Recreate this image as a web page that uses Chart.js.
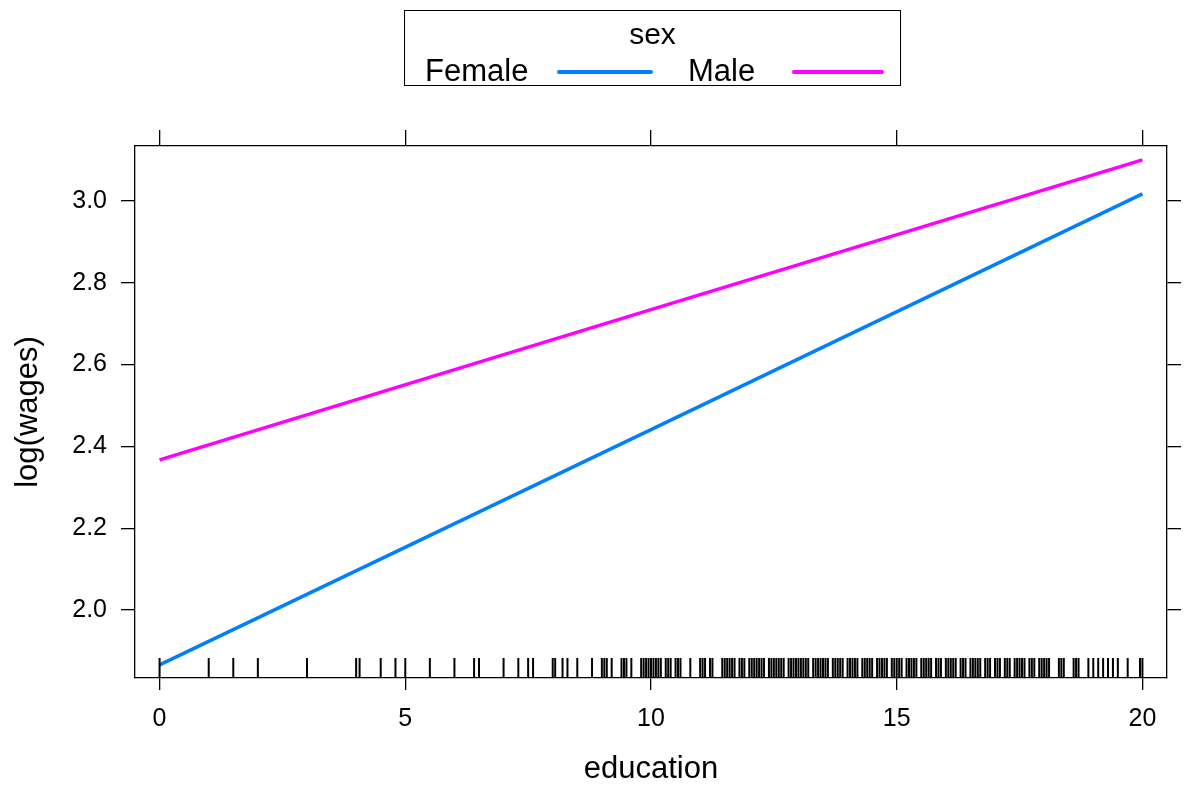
<!DOCTYPE html>
<html lang="en">
<head>
  <meta charset="UTF-8">
  <script src="https://cdn.jsdelivr.net/npm/chart.js"></script>
  <style>
    body, html {
      margin: 0;
      padding: 0;
      background: white;
      font-family: 'Liberation Sans', Arial, sans-serif;
    }
    .wrap {
      position: relative;
      width: 1185px;
      height: 788px;
    }
    .legend {
      position: absolute;
      left: 404px;
      top: 10px;
      width: 495px;
      height: 74px;
      border: 1px solid #000;
      font-size: 30px;
      color: #000;
    }
    .legend .title {
      position: absolute;
      left: 0; right: 0;
      top: 6px;
      text-align: center;
    }
    .legend .item { position: absolute; top: 44px; font-size: 31px; line-height: 31px; }
    .legend .line { position: absolute; top: 59px; height: 4px; border-radius: 2px; }
  </style>
</head>
<body>
  <div class="wrap">
    <canvas id="effectChart" width="1185" height="788"></canvas>
    <!-- legend box drawn in html, lattice style -->
    <div class="legend">
      <div class="title">sex</div>
      <div class="item" style="left:20px">Female</div>
      <div class="line" style="left:152px;width:96px;background:#0080ff"></div>
      <div class="item" style="left:283px">Male</div>
      <div class="line" style="left:387px;width:92px;background:#ff00ff"></div>
    </div>
  </div>
<script>
  // fitted values
  const education = [0, 10, 20];
  const female = [1.866, 2.441, 3.017];
  const male = [2.367, 2.734, 3.100];

  // axis ticks
  const xTicks = [0, 5, 10, 15, 20];
  const yTicks = [2.0, 2.2, 2.4, 2.6, 2.8, 3.0];

  // rug of observed education values
  const rugValues = [0, 1, 1.5, 2, 3, 4, 4.07, 4.5, 4.8, 5, 5.5, 6, 6.4, 6.5, 7, 7.3, 7.5, 7.6,
    8, 8.05, 8.2, 8.3, 8.5, 8.8, 9, 9.05, 9.1, 9.2, 9.4, 9.45, 9.5, 9.6, 9.8, 9.85, 9.9, 9.95,
    10, 10.05, 10.1, 10.15, 10.2, 10.3, 10.35, 10.4, 10.5, 10.55, 10.6, 10.8, 11, 11.05, 11.1, 11.2,
    11.25, 11.45, 11.5, 11.55, 11.6, 11.65, 11.7, 11.8, 11.85, 11.9,
    12, 12.05, 12.1, 12.15, 12.2, 12.25, 12.3, 12.4, 12.45, 12.5, 12.55, 12.6, 12.65, 12.7, 12.8, 12.85, 12.9, 12.95,
    13, 13.05, 13.1, 13.15, 13.2, 13.3, 13.35, 13.4, 13.45, 13.5, 13.55, 13.6, 13.7, 13.75, 13.8, 13.85, 13.9,
    14, 14.05, 14.1, 14.15, 14.2, 14.3, 14.35, 14.4, 14.45, 14.5, 14.6, 14.65, 14.7, 14.75, 14.8, 14.9, 14.95,
    15, 15.05, 15.1, 15.2, 15.25, 15.3, 15.35, 15.4, 15.5, 15.55, 15.6, 15.65, 15.7, 15.8, 15.85, 15.9,
    16, 16.05, 16.1, 16.15, 16.2, 16.3, 16.35, 16.4, 16.5, 16.55, 16.6, 16.65, 16.7, 16.8, 16.85, 16.9,
    17, 17.05, 17.1, 17.2, 17.25, 17.3, 17.4, 17.45, 17.5, 17.55, 17.6, 17.7, 17.75, 17.8, 17.9, 17.95,
    18, 18.05, 18.1, 18.3, 18.35, 18.4, 18.6, 18.65, 18.7, 18.9, 19, 19.1, 19.2, 19.3, 19.4, 19.5,
    19.7, 19.95, 20];

  const xMin = -0.5, xMax = 20.5;
  const yMin = 1.834, yMax = 3.134;

  const rugPlugin = {
    id: 'rug',
    afterDatasetsDraw(chart) {
      const ctx = chart.ctx;
      const xs = chart.scales.x;
      const bottom = chart.chartArea.bottom;
      ctx.save();
      ctx.strokeStyle = '#000';
      ctx.lineWidth = 2;
      rugValues.forEach(v => {
        const px = xs.getPixelForValue(v);
        ctx.beginPath();
        ctx.moveTo(px, bottom);
        ctx.lineTo(px, bottom - 20);
        ctx.stroke();
      });
      ctx.restore();
    }
  };

  const tickFont = { family: "'Liberation Sans', Arial, sans-serif", size: 25 };
  const titleFont = { family: "'Liberation Sans', Arial, sans-serif", size: 31 };

  function axisGrid(len) {
    return { display: true, drawOnChartArea: false, drawTicks: true, tickLength: len, color: '#000', tickColor: '#000', lineWidth: 1.3 };
  }
  const border = { display: true, color: '#000', width: 1.3 };

  new Chart(document.getElementById('effectChart'), {
    type: 'line',
    data: {
      datasets: [
        { label: 'Female', data: education.map((x, i) => ({ x: x, y: female[i] })),
          borderColor: '#0080ff', borderWidth: 3.5, pointRadius: 0, fill: false },
        { label: 'Male', data: education.map((x, i) => ({ x: x, y: male[i] })),
          borderColor: '#ff00ff', borderWidth: 3.5, pointRadius: 0, fill: false }
      ]
    },
    options: {
      responsive: false,
      animation: false,
      layout: { padding: { top: 130, right: 0, left: 0, bottom: 0 } },
      plugins: { legend: { display: false }, tooltip: { enabled: false } },
      scales: {
        x: {
          type: 'linear', position: 'bottom', min: xMin, max: xMax,
          afterBuildTicks: s => { s.ticks = xTicks.map(v => ({ value: v })); },
          afterFit: s => { s.height = 110; },
          grid: axisGrid(12), border: border,
          ticks: { color: '#000', font: tickFont, padding: 14, maxRotation: 0 },
          title: { display: true, text: 'education', color: '#000', font: titleFont, padding: { top: 0, bottom: 0 } }
        },
        x2: {
          type: 'linear', position: 'top', min: xMin, max: xMax,
          afterBuildTicks: s => { s.ticks = xTicks.map(v => ({ value: v })); },
          afterFit: s => { s.height = 16; },
          grid: axisGrid(16), border: border,
          ticks: { display: false }
        },
        y: {
          type: 'linear', position: 'left', min: yMin, max: yMax,
          afterBuildTicks: s => { s.ticks = yTicks.map(v => ({ value: v })); },
          afterFit: s => { s.width = 135; },
          grid: axisGrid(14), border: border,
          ticks: { color: '#000', font: tickFont, padding: 14, callback: v => v.toFixed(1) },
          title: { display: true, text: 'log(wages)', color: '#000', font: titleFont, padding: { top: 10, bottom: 0 } }
        },
        y2: {
          type: 'linear', position: 'right', min: yMin, max: yMax,
          afterBuildTicks: s => { s.ticks = yTicks.map(v => ({ value: v })); },
          afterFit: s => { s.width = 18; },
          grid: axisGrid(14), border: border,
          ticks: { display: false }
        }
      }
    },
    plugins: [rugPlugin]
  });
</script>
</body>
</html>
